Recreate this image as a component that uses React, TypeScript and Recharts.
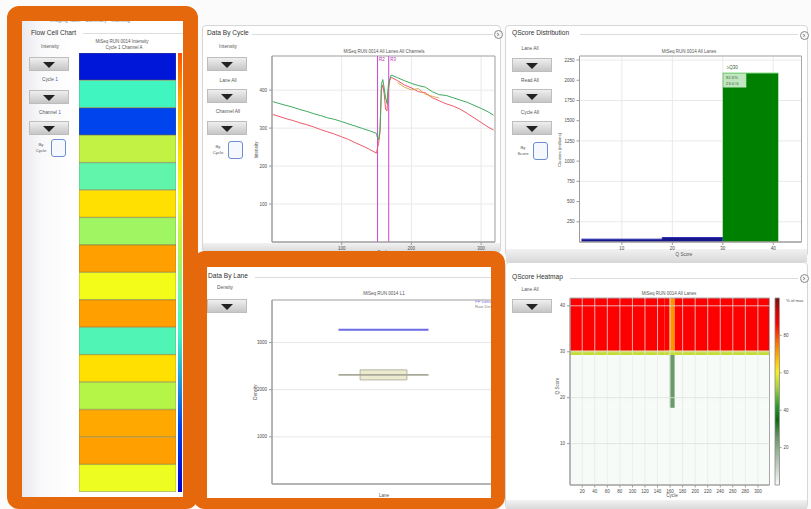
import React from "react";
import {
  Area,
  Bar,
  BarChart,
  CartesianGrid,
  Cell,
  ComposedChart,
  Line,
  LineChart,
  ReferenceArea,
  ReferenceDot,
  ReferenceLine,
  Scatter,
  XAxis,
  YAxis,
} from "recharts";

// ---- Flow cell: normalised cycle-1 intensity per tile ----
const tileNames = ["1101", "1102", "1103", "1104", "1105", "1106", "1107", "1108", "1109", "1110", "1111", "1112", "1113", "1114", "1115", "1116"];
const tileIntensity = [0.05, 0.36, 0.15, 0.58, 0.42, 0.76, 0.52, 0.9, 0.68, 0.9, 0.39, 0.76, 0.55, 0.88, 0.9, 0.66];

// ---- Data by cycle: intensity per channel ----
const densityCycles = [1, 10, 20, 30, 40, 50, 60, 70, 80, 90, 100, 110, 120, 130, 140, 150, 151, 153, 155, 157, 159, 161, 163, 165, 167, 169, 171, 180, 190, 200, 210, 220, 230, 240, 250, 260, 270, 280, 290, 300, 310, 318];
const greenIntensity = [370, 365, 360, 355, 349, 344, 338, 333, 327, 323, 317, 311, 305, 299, 293, 286, 276, 270, 295, 415, 428, 405, 380, 365, 415, 430, 440, 433, 425, 418, 412, 408, 396, 388, 386, 380, 374, 368, 360, 352, 343, 334];
const redIntensity = [336, 331, 325, 320, 314, 309, 303, 296, 290, 284, 277, 270, 261, 253, 244, 234, 245, 260, 290, 400, 414, 390, 350, 345, 400, 425, 434, 425, 414, 406, 396, 393, 380, 372, 364, 358, 350, 339, 327, 315, 303, 295];
const amberIntensity: (number | null)[] = [
  null, null, null, null, null, null, null, null, null, null, null, null, null, null, null, null,
  null, null, null, null, null, null, null, null, null, null, null,
  420, 408, 401, 404, 389, 384, 379, null, null, null, null, null, null, null, null,
];
const intensityTicks = [100, 200, 300, 400];
const cycleTicks = [100, 200, 300];
const readBoundaries = [151.5, 167.5];
const readLabels = ["R2", "R3"];

// ---- QScore distribution (binned) ----
const qBinStart = [2, 18, 30, 41];
const qBelow30: (number | null)[] = [35, 55, 55, null];
const qAbove30: (number | null)[] = [null, null, 2090, 2090];
const qTicks = [10, 20, 30, 40];
const qCountTicks = [250, 500, 750, 1000, 1250, 1500, 1750, 2000, 2250];

// ---- Data by lane: density ----
const lanes = [1];
const pfDensity = [3270];
const rawQ1 = [2206];
const rawMedian = [2313];
const rawQ3 = [2419];
const densityTicks = [1000, 2000, 3000];

// ---- QScore heatmap: % of max per cycle range / Q range ----
const heatCycleRanges = [
  [0.5, 151.5],
  [151.5, 159.5],
  [159.5, 167.5],
  [167.5, 318.5],
];
const heatQRanges = [
  [1, 17.8],
  [17.8, 29.3],
  [29.3, 30.3],
  [30.3, 41.7],
];
const heatPct = [
  [0, 0, 55, 86],
  [0, 0, 55, 86],
  [0, 25, 55, 72],
  [0, 0, 55, 86],
];
const heatCycleTicks = [20, 40, 60, 80, 100, 120, 140, 160, 180, 200, 220, 240, 260, 280, 300];
const heatQTicks = [10, 20, 30, 40];
const pctTicks = [20, 40, 60, 80];

const FONT = '"Liberation Sans", Arial, sans-serif';
const ORANGE = "#e5680c";
const TICK = { fontSize: 4.5, fill: "#4a4a4a", fontFamily: FONT };
const AXIS = "#9c9c9c";

const jetStops: [number, string][] = [
  [0, "#0000d0"],
  [0.15, "#0044ee"],
  [0.36, "#40f5c0"],
  [0.45, "#70f5a0"],
  [0.55, "#b4f548"],
  [0.6, "#ccf242"],
  [0.67, "#f2ff1c"],
  [0.76, "#ffe000"],
  [0.9, "#ffa000"],
  [1, "#ff5000"],
];

const heatStops: [number, string][] = [
  [0, "#f7fbf7"],
  [12, "#b8c8b8"],
  [25, "#6a9a6a"],
  [35, "#0a6a0a"],
  [42, "#2a9a2a"],
  [52, "#a8d040"],
  [60, "#f4f020"],
  [67, "#ffc000"],
  [76, "#ff7000"],
  [86, "#ff0000"],
  [93, "#d80000"],
  [100, "#7a1010"],
];

function hexRgb(h: string) {
  const n = parseInt(h.slice(1), 16);
  return [(n >> 16) & 255, (n >> 8) & 255, n & 255];
}

function colorAt(stops: [number, string][], v: number) {
  if (v <= stops[0][0]) return stops[0][1];
  for (let i = 1; i < stops.length; i++) {
    if (v <= stops[i][0]) {
      const t = (v - stops[i - 1][0]) / (stops[i][0] - stops[i - 1][0]);
      const a = hexRgb(stops[i - 1][1]);
      const b = hexRgb(stops[i][1]);
      const c = a.map((x, k) => Math.round(x + (b[k] - x) * t));
      return `rgb(${c[0]},${c[1]},${c[2]})`;
    }
  }
  return stops[stops.length - 1][1];
}

const tileRows = tileNames.map((tile, i) => ({ tile, span: 1, intensity: tileIntensity[i] }));
const densityRows = densityCycles.map((cycle, i) => ({
  cycle,
  green: greenIntensity[i],
  red: redIntensity[i],
  amber: amberIntensity[i],
}));
const qRows = qBinStart.map((q, i) => ({ q, below: qBelow30[i], above: qAbove30[i] }));
const laneRows = lanes.map((lane, i) => ({ lane, pf: pfDensity[i], q1: rawQ1[i], median: rawMedian[i], q3: rawQ3[i] }));
const heatCells = heatCycleRanges.flatMap((c, ci) =>
  heatQRanges.map((q, qi) => ({
    x1: c[0],
    x2: c[1],
    y1: q[0],
    y2: q[1],
    xc: (c[0] + c[1]) / 2,
    yc: (q[0] + q[1]) / 2,
    pct: heatPct[ci][qi],
  }))
);
const scaleRows = heatStops.map(([pct]) => ({ x: 0.5, pct }));

// share of clusters at or above Q30, from the binned histogram
function binArea(vals: (number | null)[]) {
  let s = 0;
  for (let i = 0; i < qBinStart.length - 1; i++) {
    const v = vals[i];
    if (v != null) s += v * (qBinStart[i + 1] - qBinStart[i]);
  }
  return s;
}
const aboveArea = binArea(qAbove30);
const totalArea = aboveArea + binArea(qBelow30);
const pctQ30 = ((aboveArea / totalArea) * 100).toFixed(1) + "%";

function Txt({ x, y, children, size = 4.8, color = "#555", anchor = "center" }: any) {
  const tx = anchor === "left" ? "0" : "-50%";
  return (
    <div
      style={{
        position: "absolute",
        left: x,
        top: y,
        transform: `translate(${tx},-50%)`,
        fontSize: size,
        color,
        whiteSpace: "nowrap",
        lineHeight: 1,
      }}
    >
      {children}
    </div>
  );
}

function VTxt({ x, y, children, size = 4.6 }: any) {
  return (
    <div
      style={{
        position: "absolute",
        left: x,
        top: y,
        transform: "translate(-50%,-50%) rotate(-90deg)",
        fontSize: size,
        color: "#555",
        whiteSpace: "nowrap",
        lineHeight: 1,
      }}
    >
      {children}
    </div>
  );
}

function Dropdown({ left, top }: { left: number; top: number }) {
  return (
    <div
      style={{
        position: "absolute",
        left,
        top,
        width: 40,
        height: 14,
        boxSizing: "border-box",
        border: "1px solid #bdbdbd",
        background: "linear-gradient(#efefef, #c6c6c6)",
      }}
    >
      <div
        style={{
          position: "absolute",
          left: 13,
          top: 3.5,
          width: 0,
          height: 0,
          borderLeft: "6px solid transparent",
          borderRight: "6px solid transparent",
          borderTop: "6px solid #222",
        }}
      />
    </div>
  );
}

function CheckBox({ left, top, line1, line2 }: any) {
  return (
    <>
      <Txt x={left - 10} y={top + 6} size={4.3}>{line1}</Txt>
      <Txt x={left - 10} y={top + 12} size={4.3}>{line2}</Txt>
      <div
        style={{
          position: "absolute",
          left,
          top,
          width: 15,
          height: 18,
          boxSizing: "border-box",
          border: "1.5px solid #6d8fcf",
          borderRadius: 3,
          background: "#f5f9ff",
        }}
      />
    </>
  );
}

function RoundBtn({ x, y }: { x: number; y: number }) {
  return (
    <div
      style={{
        position: "absolute",
        left: x - 4.5,
        top: y - 4.5,
        width: 9,
        height: 9,
        boxSizing: "border-box",
        borderRadius: "50%",
        border: "1px solid #8a8a8a",
        background: "#f6f6f6",
        fontSize: 7,
        lineHeight: "7px",
        textAlign: "center",
        color: "#444",
      }}
    >
      ›
    </div>
  );
}

function Panel({ left, top, width, height, title, tx, ty, lineFrom, lineTo }: any) {
  return (
    <>
      <div
        style={{
          position: "absolute",
          left,
          top,
          width,
          height,
          boxSizing: "border-box",
          border: "1px solid #d6d6d6",
          borderRadius: 4,
          background: "#fff",
        }}
      />
      <div style={{ position: "absolute", left: tx, top: ty, fontSize: 6.6, color: "#333", whiteSpace: "nowrap", lineHeight: 1 }}>
        {title}
      </div>
      <div style={{ position: "absolute", left: lineFrom, top: ty + 4, width: lineTo - lineFrom, height: 1, background: "#dcdcdc" }} />
    </>
  );
}

function BottomStrip({ left, top, width, height }: any) {
  return (
    <div style={{ position: "absolute", left, top, width, height, background: "linear-gradient(#f2f2f2, #d9d9d9)" }} />
  );
}

const blue1 = <span style={{ color: "#3a62c8" }}>1</span>;

function FlowCellPanel() {
  const strip = jetStops
    .slice()
    .reverse()
    .map(([v, c]) => `${c} ${((1 - v) * 100).toFixed(0)}%`)
    .join(", ");
  return (
    <>
      <div style={{ position: "absolute", left: 22, top: 16, width: 161, height: 482, background: "#fff" }} />
      <div style={{ position: "absolute", left: 22, top: 16, width: 50, height: 482, background: "linear-gradient(90deg, #e9e9ef, #f9f9fb 40%, #ffffff)" }} />
      <Txt x={90} y={20} size={5} color="#888">Imaging Table · Summary · Indexing</Txt>
      <div style={{ position: "absolute", left: 31, top: 29.5, fontSize: 6.6, color: "#333", whiteSpace: "nowrap", lineHeight: 1 }}>Flow Cell Chart</div>
      <div style={{ position: "absolute", left: 83, top: 33, width: 100, height: 1, background: "#dcdcdc" }} />
      <Txt x={50} y={47}>Intensity</Txt>
      <Dropdown left={29} top={57} />
      <Txt x={50} y={80}>Cycle {blue1}</Txt>
      <Dropdown left={29} top={90} />
      <Txt x={50} y={113}>Channel {blue1}</Txt>
      <Dropdown left={29} top={121} />
      <CheckBox left={51} top={139} line1="By" line2="Cycle" />
      <Txt x={122} y={42} size={4.5}>MiSeq RUN 0014 Intensity</Txt>
      <Txt x={124} y={48} size={4.5}>Cycle 1 Channel A</Txt>
      <div style={{ position: "absolute", left: 178, top: 53, width: 4, height: 439, background: `linear-gradient(${strip})` }} />
      <div style={{ position: "absolute", left: 79, top: 53 }}>
        <BarChart width={97} height={439} data={tileRows} layout="vertical" barCategoryGap={0} margin={{ top: 0, right: 0, bottom: 0, left: 0 }}>
          <XAxis type="number" domain={[0, 1]} hide />
          <YAxis type="category" dataKey="tile" hide />
          <Bar dataKey="span" isAnimationActive={false} stroke="rgba(110,110,40,0.55)" strokeWidth={0.8}>
            {tileRows.map((t) => (
              <Cell key={t.tile} fill={colorAt(jetStops, t.intensity)} />
            ))}
          </Bar>
        </BarChart>
      </div>
    </>
  );
}

function DensityByCyclePanel() {
  return (
    <>
      <Panel left={202} top={25} width={299} height={228} title="Data By Cycle" tx={207} ty={30} lineFrom={252} lineTo={493} />
      <BottomStrip left={203} top={243} width={297} height={9} />
      <RoundBtn x={498} y={34} />
      <Txt x={228} y={47}>Intensity</Txt>
      <Dropdown left={207} top={57} />
      <Txt x={228} y={80.5}>Lane All</Txt>
      <Dropdown left={207} top={89} />
      <Txt x={228} y={112}>Channel All</Txt>
      <Dropdown left={207} top={121} />
      <CheckBox left={228} top={141} line1="By" line2="Cycle" />
      <Txt x={384} y={51.5} size={4.5}>MiSeq RUN 0014 All Lanes All Channels</Txt>
      <VTxt x={257} y={150}>Intensity</VTxt>
      <Txt x={383} y={253} size={4.6}>Cycle</Txt>
      <div style={{ position: "absolute", left: 230, top: 44 }}>
        <LineChart width={270} height={214} data={densityRows} margin={{ top: 12, right: 5, bottom: 4, left: 0 }}>
          <CartesianGrid stroke="#e9e9e9" />
          <XAxis dataKey="cycle" type="number" domain={[0, 320]} ticks={cycleTicks} tick={TICK} tickSize={3} height={12} stroke={AXIS} allowDataOverflow />
          <YAxis type="number" domain={[0, 490]} ticks={intensityTicks} tick={TICK} tickSize={3} width={42} stroke={AXIS} />
          <ReferenceArea x1={0} x2={320} y1={0} y2={490} fill="none" stroke="#a8a8a8" />
          {readBoundaries.map((x, i) => (
            <ReferenceLine
              key={x}
              x={x}
              stroke="#cc44cc"
              strokeWidth={1}
              label={{ value: readLabels[i], position: "insideTopLeft", offset: 1.5, fontSize: 4.5, fill: "#b030b0" }}
            />
          ))}
          <Line type="linear" dataKey="red" stroke="#ee5a6a" strokeWidth={1} dot={false} isAnimationActive={false} />
          <Line type="linear" dataKey="amber" stroke="#d9a040" strokeWidth={0.9} dot={false} isAnimationActive={false} />
          <Line type="linear" dataKey="green" stroke="#3faa5f" strokeWidth={1} dot={false} isAnimationActive={false} />
        </LineChart>
      </div>
    </>
  );
}

function QScoreDistPanel() {
  return (
    <>
      <Panel left={505} top={25} width={303} height={232} title="QScore Distribution" tx={512} ty={30} lineFrom={580} lineTo={798} />
      <BottomStrip left={506} top={249} width={301} height={13} />
      <RoundBtn x={804} y={35} />
      <Txt x={530} y={49}>Lane All</Txt>
      <Dropdown left={512} top={58} />
      <Txt x={530} y={80.5}>Read All</Txt>
      <Dropdown left={512} top={89} />
      <Txt x={530} y={112.5}>Cycle All</Txt>
      <Dropdown left={512} top={121} />
      <CheckBox left={533} top={142} line1="By" line2="Score" />
      <Txt x={689} y={51.5} size={4.5}>MiSeq RUN 0014 All Lanes</Txt>
      <VTxt x={560} y={150} size={4.3}>Clusters (millions)</VTxt>
      <Txt x={684} y={255} size={4.6}>Q Score</Txt>
      <div style={{ position: "absolute", left: 540, top: 44 }}>
        <ComposedChart width={265} height={214} data={qRows} margin={{ top: 12, right: 3.5, bottom: 4, left: 0 }}>
          <CartesianGrid stroke="#e9e9e9" />
          <XAxis dataKey="q" type="number" domain={[1.6, 45.6]} ticks={qTicks} tick={TICK} tickSize={3} height={12} stroke={AXIS} allowDataOverflow />
          <YAxis type="number" domain={[0, 2300]} ticks={qCountTicks} tick={TICK} tickSize={3} width={39.5} stroke={AXIS} />
          <Area type="stepAfter" dataKey="below" baseValue={0} stroke="#2c2cb0" strokeWidth={1} fill="#16168c" fillOpacity={1} isAnimationActive={false} />
          <Area type="stepAfter" dataKey="above" baseValue={0} stroke="#8fe08f" strokeWidth={1} fill="#008000" fillOpacity={1} isAnimationActive={false} />
          <ReferenceArea x1={1.6} x2={45.6} y1={0} y2={2300} fill="none" stroke="#a8a8a8" />
          <ReferenceDot
            x={qBinStart[2]}
            y={qAbove30[2] as number}
            r={0}
            shape={(p: any) => (
              <g fontFamily={FONT}>
                <text x={p.cx + 4} y={p.cy - 4} fontSize={4.5} fill="#2d5a2d">≥Q30</text>
                <rect x={p.cx + 1} y={p.cy + 1} width={22} height={13} fill="#e4f7e4" fillOpacity={0.85} stroke="#c4eec4" />
                <text x={p.cx + 3} y={p.cy + 6.5} fontSize={4.3} fill="#2e6b2e">{pctQ30}</text>
                <text x={p.cx + 3} y={p.cy + 11.8} fontSize={4.3} fill="#2e6b2e">{(aboveArea / 1000).toFixed(1)} G</text>
              </g>
            )}
          />
        </ComposedChart>
      </div>
    </>
  );
}

function DataByLanePanel() {
  return (
    <>
      <Panel left={200} top={262} width={301} height={247} title="Data By Lane" tx={208} ty={273} lineFrom={255} lineTo={495} />
      <Txt x={225} y={288}>Density</Txt>
      <Dropdown left={207} top={299} />
      <Txt x={384} y={293.5} size={4.5}>MiSeq RUN 0014 L1</Txt>
      <VTxt x={256} y={392}>Density</VTxt>
      <Txt x={384} y={496} size={4.6}>Lane</Txt>
      <Txt x={475} y={302} size={4.2} color="#6a6ae6" anchor="left">PF Density</Txt>
      <Txt x={475} y={307} size={4.2} color="#8a8a7a" anchor="left">Raw Density</Txt>
      <div style={{ position: "absolute", left: 230, top: 288 }}>
        <ComposedChart width={270} height={212} data={laneRows} margin={{ top: 12, right: 5, bottom: 4, left: 0 }}>
          <CartesianGrid stroke="#e6e6e6" />
          <XAxis dataKey="lane" type="number" domain={[0.5, 1.5]} ticks={lanes} tick={false} tickSize={7} height={12} stroke={AXIS} />
          <YAxis type="number" domain={[0, 3900]} ticks={densityTicks} tick={TICK} tickSize={3} width={42} stroke={AXIS} />
          {laneRows.map((r) => (
            <ReferenceArea key={r.lane} x1={r.lane - 0.105} x2={r.lane + 0.105} y1={r.q1} y2={r.q3} fill="#ecebd0" fillOpacity={1} stroke="#a8a894" strokeWidth={0.8} />
          ))}
          <Scatter
            dataKey="median"
            isAnimationActive={false}
            shape={(p: any) => <line x1={p.cx - 45} x2={p.cx + 45} y1={p.cy} y2={p.cy} stroke="#aaa99a" strokeWidth={1.6} />}
          />
          <Scatter
            dataKey="pf"
            isAnimationActive={false}
            shape={(p: any) => <line x1={p.cx - 45} x2={p.cx + 45} y1={p.cy} y2={p.cy} stroke="#6a6ae6" strokeWidth={2} />}
          />
          <ReferenceArea x1={0.5} x2={1.5} y1={0} y2={3900} fill="none" stroke="#a8a8a8" />
        </ComposedChart>
      </div>
    </>
  );
}

function QScoreHeatmapPanel() {
  return (
    <>
      <Panel left={505} top={262} width={303} height={247} title="QScore Heatmap" tx={512} ty={274} lineFrom={570} lineTo={798} />
      <BottomStrip left={506} top={500} width={301} height={9} />
      <RoundBtn x={804} y={278} />
      <Txt x={530} y={290}>Lane All</Txt>
      <Dropdown left={512} top={299} />
      <Txt x={669} y={293.5} size={4.5}>MiSeq RUN 0014 All Lanes</Txt>
      <VTxt x={558} y={386}>Q Score</VTxt>
      <Txt x={672} y={496} size={4.6}>Cycle</Txt>
      <Txt x={786} y={301} size={4.2} anchor="left">% of max</Txt>
      <div style={{ position: "absolute", left: 530, top: 287 }}>
        <ComposedChart width={240} height={215} data={heatCells} margin={{ top: 11, right: 0.5, bottom: 5, left: 0 }}>
          <XAxis dataKey="xc" type="number" domain={[0.5, 318.5]} ticks={heatCycleTicks} interval={0} tick={TICK} tickSize={2.5} height={12} stroke={AXIS} allowDataOverflow />
          <YAxis dataKey="yc" type="number" domain={[1, 41.7]} ticks={heatQTicks} tick={TICK} tickSize={3} width={40} stroke={AXIS} allowDataOverflow />
          {heatCells.map((c, i) => (
            <ReferenceArea key={i} x1={c.x1} x2={c.x2} y1={c.y1} y2={c.y2} fill={colorAt(heatStops, c.pct)} fillOpacity={1} stroke="none" />
          ))}
          {heatCycleTicks.map((t) => (
            <ReferenceLine key={"x" + t} x={t} stroke="rgba(232,232,232,0.75)" strokeWidth={1} />
          ))}
          {heatQTicks.map((t) => (
            <ReferenceLine key={"y" + t} y={t} stroke="rgba(222,222,222,0.8)" strokeWidth={1} />
          ))}
          <Scatter dataKey="yc" isAnimationActive={false} shape={() => <g />} />
          <ReferenceArea x1={0.5} x2={318.5} y1={1} y2={41.7} fill="none" stroke="#a8a8a8" />
        </ComposedChart>
      </div>
      <div style={{ position: "absolute", left: 768, top: 287 }}>
        <ComposedChart width={43} height={215} data={scaleRows} margin={{ top: 11, right: 0, bottom: 17, left: 7 }}>
          <defs>
            <linearGradient id="pctScale" x1="0" y1="1" x2="0" y2="0">
              {heatStops.map(([v, c]) => (
                <stop key={v} offset={`${v}%`} stopColor={c} />
              ))}
            </linearGradient>
          </defs>
          <XAxis dataKey="x" type="number" domain={[0, 1]} hide />
          <YAxis dataKey="pct" type="number" orientation="right" domain={[0, 100]} ticks={pctTicks} tick={TICK} tickSize={2} width={31.5} stroke={AXIS} />
          <Scatter dataKey="pct" isAnimationActive={false} shape={() => <g />} />
          <ReferenceArea x1={0} x2={1} y1={0} y2={100} fill="url(#pctScale)" fillOpacity={1} stroke="#8c8c8c" strokeWidth={0.8} />
        </ComposedChart>
      </div>
    </>
  );
}

export default function App() {
  return (
    <div
      style={{
        position: "absolute",
        left: 0,
        top: 0,
        width: 811,
        height: 509,
        overflow: "hidden",
        background: "#fbfbfb",
        fontFamily: FONT,
      }}
    >
      <DensityByCyclePanel />
      <QScoreDistPanel />
      <DataByLanePanel />
      <QScoreHeatmapPanel />
      <FlowCellPanel />
      <div
        style={{
          position: "absolute",
          left: 7,
          top: 6,
          width: 191,
          height: 503,
          boxSizing: "border-box",
          borderStyle: "solid",
          borderColor: ORANGE,
          borderWidth: "15px 15px 12px 15px",
          borderRadius: 12,
        }}
      />
      <div
        style={{
          position: "absolute",
          left: 193,
          top: 251,
          width: 312,
          height: 258,
          boxSizing: "border-box",
          borderStyle: "solid",
          borderColor: ORANGE,
          borderWidth: "16px 14px 11px 14px",
          borderRadius: 12,
        }}
      />
    </div>
  );
}
